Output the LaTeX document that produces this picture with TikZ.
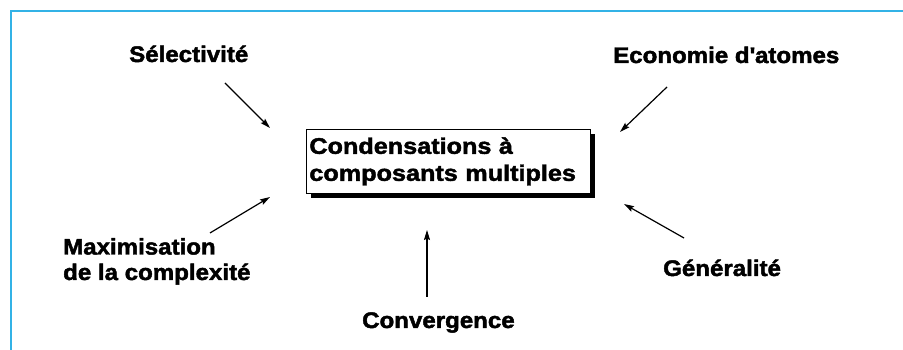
\documentclass[tikz,border=0pt]{standalone}
\usepackage{fontspec}
\setmainfont{Liberation Sans}[FakeStretch=1.07,BoldFeatures={FakeBold=2}]
\newfontfamily\boxfont{Liberation Sans}[FakeStretch=1.12,BoldFeatures={FakeBold=2}]
\usetikzlibrary{arrows.meta,shadows}
\definecolor{frameblue}{RGB}{51,178,230}
\begin{document}
\begin{tikzpicture}[x=1pt,y=1pt,
  lab/.style={inner sep=0pt,anchor=base west,font=\fontsize{22.5}{25.5}\selectfont\bfseries,align=left},
  arr/.style={line width=1.2pt,-{Stealth[length=10pt,width=6pt,inset=1.5pt]}},
  mainbox/.style={draw=black,line width=0.8pt,fill=white,minimum width=284pt,minimum height=64pt,
    inner xsep=3pt,text width=278pt,align=left,font=\boxfont\fontsize{22.5}{27}\selectfont\bfseries,
    drop shadow={shadow xshift=5pt,shadow yshift=-4.5pt,fill=black,opacity=1}}]
\useasboundingbox (0,0) rectangle (903,350);
% frame
\draw[frameblue,line width=1.3pt] (11,0) -- (11,339) -- (903,339);
% central box
\node[mainbox,anchor=north west] (box) at (306,221) {\mbox{Condensations à}\\\mbox{composants multiples}};
% labels
\node[lab] (sel) at (129,288) {Sélectivité};
\node[lab] (eco) at (613,287) {Economie d\textquotesingle atomes};
\node[lab] (max) at (63,70) {Maximisation\\de la complexité};
\node[lab] (conv) at (362,22) {Convergence};
\node[lab] (gen) at (663,74) {Généralité};
% arrow end points
\coordinate (s1) at (225,267); \coordinate (s2) at (270,222);
\coordinate (e1) at (667,263); \coordinate (e2) at (620,218);
\coordinate (m1) at (210,117); \coordinate (m2) at (270,153);
\coordinate (c1) at (427,53);  \coordinate (c2) at (427,120);
\coordinate (g1) at (684,112); \coordinate (g2) at (624,146);
\draw[arr] (s1) -- (s2);
\draw[arr] (e1) -- (e2);
\draw[arr] (m1) -- (m2);
\draw[arr] (c1) -- (c2);
\draw[arr] (g1) -- (g2);
\end{tikzpicture}
\end{document}
